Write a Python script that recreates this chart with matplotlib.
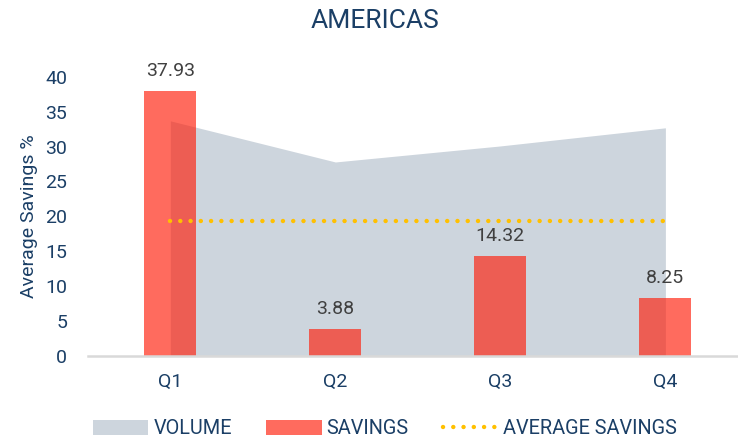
import matplotlib
matplotlib.use('Agg')
import matplotlib.pyplot as plt
from matplotlib.patches import Patch
from matplotlib.lines import Line2D
import numpy as np

plt.rcParams['font.family'] = ['Roboto', 'DejaVu Sans']

# data
quarters = ['Q1', 'Q2', 'Q3', 'Q4']
savings = [37.93, 3.88, 14.32, 8.25]
volume = [33.7, 27.8, 30.1, 32.7]
avg_savings = 19.4

NAVY = '#1B3F66'
AREA = '#CDD5DD'
BAR = '#FF1F0B'
GOLD = '#FFC000'

fig = plt.figure(figsize=(7.38, 4.42), dpi=100)
ax = fig.add_axes([0.119, 0.195, 0.881, 0.631])

x = np.arange(len(quarters))

# volume area behind, savings bars semi-transparent on top
ax.fill_between(x, 0, volume, color=AREA, linewidth=0, zorder=1)
bars = ax.bar(x, savings, width=0.315, color=BAR, alpha=0.66, linewidth=0, zorder=2)
ax.plot(x, [avg_savings] * len(x), color=GOLD, linewidth=3.2,
        linestyle=(0, (0.01, 2.3)), dash_capstyle='round', zorder=3)

for xi, v in zip(x, savings):
    ax.annotate(f'{v:.2f}', (xi, v), xytext=(0, 8), textcoords='offset points',
                ha='center', va='bottom', fontsize=14, color='#404040',
                annotation_clip=False)

ax.set_xlim(-0.5, 3.44)
ax.set_ylim(0, 40)
ax.set_yticks(range(0, 41, 5))
ax.set_xticks(x, quarters)
ax.tick_params(axis='both', length=0, labelsize=14, labelcolor=NAVY)
ax.tick_params(axis='y', pad=15)
ax.tick_params(axis='x', pad=12)
for s in ['top', 'right', 'left']:
    ax.spines[s].set_visible(False)
ax.spines['bottom'].set_color('#D9D9D9')
ax.spines['bottom'].set_linewidth(1.8)
ax.spines['bottom'].set_zorder(4)

ax.set_ylabel('Average Savings %', fontsize=14, color=NAVY)
ax.yaxis.set_label_coords(-0.076, 0.5)

fig.text(0.508, 0.953, 'AMERICAS', ha='center', va='center', fontsize=19, color=NAVY)

handles = [
    Patch(facecolor=AREA, edgecolor='none', label='VOLUME'),
    Patch(facecolor='#FF6B5E', edgecolor='none', label='SAVINGS'),
    Line2D([0], [0], color=GOLD, linewidth=3.2, linestyle=(0, (0.01, 2.3)),
           dash_capstyle='round', label='AVERAGE SAVINGS'),
]
leg = fig.legend(handles=handles, loc='center', bbox_to_anchor=(0.522, 0.03), ncol=3,
                 frameon=False, fontsize=14.3, handlelength=2.77, handleheight=0.75,
                 handletextpad=0.25, columnspacing=1.75)
for t in leg.get_texts():
    t.set_color(NAVY)

fig.savefig('out.png', dpi=100)
